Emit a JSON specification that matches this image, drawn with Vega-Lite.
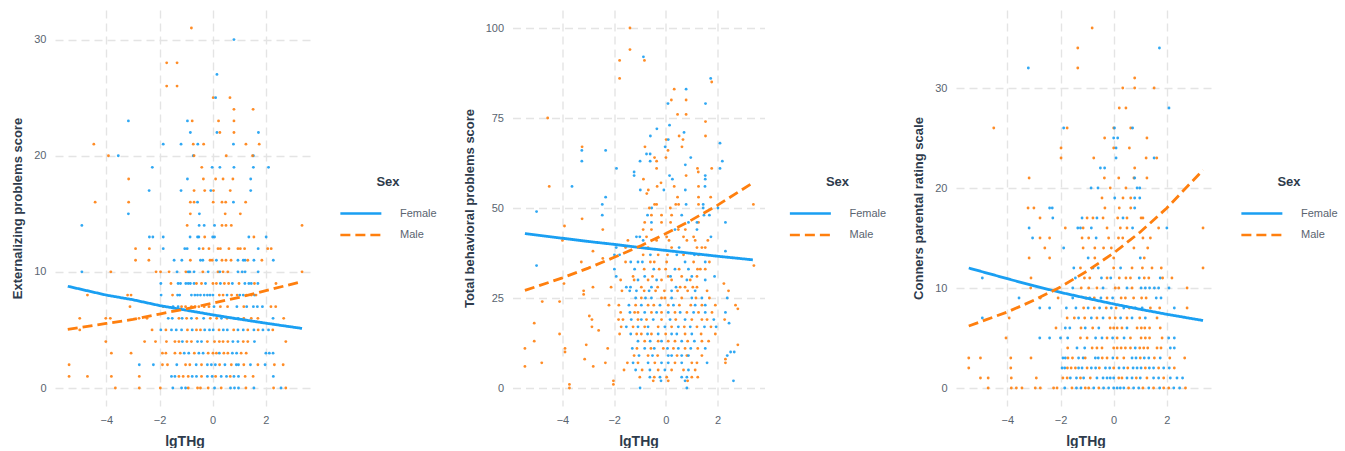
{
"$schema": "https://vega.github.io/schema/vega-lite/v6.json",
"padding": {"left": 11, "top": 10, "right": 0, "bottom": 0},
"background": "white",
"spacing": 25.5,
"config": {
  "view": {"stroke": null},
  "font": "Liberation Sans",
  "axis": {"grid": true, "gridColor": "#E4E4E4", "gridDash": [8, 5], "gridWidth": 1.4, "domain": false, "ticks": false,
    "labelFont": "Liberation Sans", "labelFontSize": 11, "labelColor": "#5A6470", "labelPadding": 9,
    "titleFont": "Liberation Sans", "titleFontSize": 13, "titleFontWeight": "bold", "titleColor": "#2E3B4C", "titlePadding": 9},
  "axisX": {"labelPadding": 8, "titlePadding": 9, "titleFontSize": 14},
  "legend": {"orient": "none", "titleFont": "Liberation Sans", "titleFontSize": 13, "titleFontWeight": "bold", "titleColor": "#2E3B4C",
    "labelFont": "Liberation Sans", "labelFontSize": 11, "labelColor": "#5A6470", "titleAnchor": "middle", "titleAlign": "center",
    "symbolType": "M-1,0H7", "symbolSize": 105, "symbolStrokeWidth": 2.6, "labelOffset": 48, "rowPadding": 9.5, "titlePadding": 18}
},
"datasets": {
"p1": [
{"x":-0.80,"y":31,"s":"M"},{"x":0.80,"y":30,"s":"F"},{"x":-1.73,"y":28,"s":"M"},{"x":-1.34,"y":28,"s":"M"},{"x":0.16,"y":27,"s":"F"},{"x":-1.73,"y":26,"s":"M"},{"x":-1.34,"y":26,"s":"M"},
{"x":0.02,"y":25,"s":"M"},{"x":0.11,"y":25,"s":"F"},{"x":0.65,"y":25,"s":"M"},{"x":0.80,"y":24,"s":"M"},{"x":1.52,"y":24,"s":"M"},
{"x":-3.17,"y":23,"s":"F"},{"x":-0.95,"y":23,"s":"F"},{"x":-0.77,"y":23,"s":"M"},{"x":0.22,"y":23,"s":"M"},{"x":0.80,"y":23,"s":"M"},
{"x":-0.84,"y":22,"s":"F"},{"x":0.16,"y":22,"s":"F"},{"x":0.27,"y":22,"s":"M"},{"x":0.80,"y":22,"s":"M"},{"x":1.72,"y":22,"s":"F"},
{"x":-4.47,"y":21,"s":"M"},{"x":-1.86,"y":21,"s":"F"},{"x":-1.19,"y":21,"s":"F"},{"x":-0.73,"y":21,"s":"M"},{"x":-0.56,"y":21,"s":"F"},{"x":-0.34,"y":21,"s":"M"},{"x":0.78,"y":21,"s":"F"},{"x":1.25,"y":21,"s":"M"},{"x":1.75,"y":21,"s":"M"},
{"x":-3.92,"y":20,"s":"M"},{"x":-3.55,"y":20,"s":"F"},{"x":-0.73,"y":20,"s":"F"},{"x":-0.70,"y":20,"s":"M"},{"x":0.51,"y":20,"s":"M"},{"x":1.53,"y":20,"s":"F"},{"x":1.50,"y":20,"s":"M"},
{"x":-2.27,"y":19,"s":"F"},{"x":-0.41,"y":19,"s":"M"},{"x":-0.02,"y":19,"s":"F"},{"x":0.27,"y":19,"s":"F"},{"x":0.80,"y":19,"s":"F"},{"x":1.53,"y":19,"s":"F"},{"x":2.10,"y":19,"s":"F"},
{"x":-3.16,"y":18,"s":"M"},{"x":-0.95,"y":18,"s":"F"},{"x":-0.35,"y":18,"s":"M"},{"x":0.11,"y":18,"s":"M"},{"x":0.39,"y":18,"s":"M"},{"x":0.76,"y":18,"s":"M"},{"x":1.43,"y":18,"s":"F"},
{"x":-2.39,"y":17,"s":"F"},{"x":-1.19,"y":17,"s":"F"},{"x":-0.70,"y":17,"s":"M"},{"x":-0.30,"y":17,"s":"M"},{"x":-0.07,"y":17,"s":"F"},{"x":0.03,"y":17,"s":"M"},{"x":0.66,"y":17,"s":"M"},{"x":1.43,"y":17,"s":"F"},
{"x":-4.42,"y":16,"s":"M"},{"x":-3.16,"y":16,"s":"M"},{"x":-0.84,"y":16,"s":"M"},{"x":-0.70,"y":16,"s":"M"},{"x":-0.57,"y":16,"s":"F"},{"x":0.02,"y":16,"s":"M"},{"x":0.35,"y":16,"s":"M"},{"x":0.49,"y":16,"s":"M"},{"x":0.78,"y":16,"s":"F"},{"x":1.24,"y":16,"s":"M"},
{"x":-3.17,"y":15,"s":"F"},{"x":-0.84,"y":15,"s":"M"},{"x":-0.50,"y":15,"s":"F"},{"x":0.47,"y":15,"s":"M"},{"x":1.04,"y":15,"s":"M"},
{"x":-4.92,"y":14,"s":"F"},{"x":-0.96,"y":14,"s":"M"},{"x":-0.51,"y":14,"s":"F"},{"x":-0.32,"y":14,"s":"F"},{"x":0.07,"y":14,"s":"F"},{"x":0.35,"y":14,"s":"M"},{"x":0.50,"y":14,"s":"M"},{"x":0.70,"y":14,"s":"M"},{"x":3.36,"y":14,"s":"M"},
{"x":-2.38,"y":13,"s":"F"},{"x":-2.25,"y":13,"s":"F"},{"x":-1.86,"y":13,"s":"F"},{"x":-0.85,"y":13,"s":"F"},{"x":-0.57,"y":13,"s":"F"},{"x":-0.52,"y":13,"s":"F"},{"x":-0.30,"y":13,"s":"M"},{"x":0.0,"y":13,"s":"F"},{"x":0.07,"y":13,"s":"F"},{"x":1.36,"y":13,"s":"F"},{"x":1.55,"y":13,"s":"M"},{"x":2.01,"y":13,"s":"F"},
{"x":-2.90,"y":12,"s":"M"},{"x":-2.38,"y":12,"s":"M"},{"x":-1.86,"y":12,"s":"F"},{"x":-1.05,"y":12,"s":"F"},{"x":-0.96,"y":12,"s":"F"},{"x":-0.51,"y":12,"s":"F"},{"x":-0.36,"y":12,"s":"M"},{"x":-0.14,"y":12,"s":"M"},{"x":0.20,"y":12,"s":"M"},{"x":0.29,"y":12,"s":"M"},{"x":0.61,"y":12,"s":"M"},{"x":0.95,"y":12,"s":"M"},{"x":1.04,"y":12,"s":"M"},{"x":1.20,"y":12,"s":"M"},{"x":1.71,"y":12,"s":"F"},{"x":2.07,"y":12,"s":"M"},{"x":2.20,"y":12,"s":"M"},
{"x":-2.90,"y":11,"s":"M"},{"x":-2.40,"y":11,"s":"M"},{"x":-1.45,"y":11,"s":"F"},{"x":-1.16,"y":11,"s":"F"},{"x":-0.84,"y":11,"s":"M"},{"x":-0.46,"y":11,"s":"F"},{"x":-0.37,"y":11,"s":"F"},{"x":-0.10,"y":11,"s":"M"},{"x":-0.02,"y":11,"s":"M"},{"x":0.14,"y":11,"s":"F"},{"x":0.35,"y":11,"s":"M"},{"x":0.50,"y":11,"s":"M"},{"x":0.69,"y":11,"s":"M"},{"x":0.95,"y":11,"s":"F"},{"x":1.15,"y":11,"s":"F"},{"x":1.22,"y":11,"s":"F"},{"x":1.32,"y":11,"s":"M"},{"x":1.55,"y":11,"s":"F"},{"x":1.85,"y":11,"s":"M"},{"x":2.28,"y":11,"s":"F"},
{"x":-4.92,"y":10,"s":"F"},{"x":-3.83,"y":10,"s":"M"},{"x":-2.13,"y":10,"s":"M"},{"x":-1.96,"y":10,"s":"M"},{"x":-1.64,"y":10,"s":"M"},{"x":-1.34,"y":10,"s":"F"},{"x":-1.01,"y":10,"s":"M"},{"x":-0.92,"y":10,"s":"F"},{"x":-0.86,"y":10,"s":"F"},{"x":-0.70,"y":10,"s":"F"},{"x":-0.37,"y":10,"s":"M"},{"x":-0.17,"y":10,"s":"F"},{"x":0.20,"y":10,"s":"M"},{"x":0.27,"y":10,"s":"F"},{"x":0.39,"y":10,"s":"M"},{"x":0.57,"y":10,"s":"M"},{"x":0.95,"y":10,"s":"F"},{"x":1.11,"y":10,"s":"F"},{"x":1.22,"y":10,"s":"F"},{"x":1.71,"y":10,"s":"F"},{"x":3.36,"y":10,"s":"M"},
{"x":-1.95,"y":9,"s":"F"},{"x":-1.57,"y":9,"s":"M"},{"x":-1.30,"y":9,"s":"F"},{"x":-1.21,"y":9,"s":"F"},{"x":-1.01,"y":9,"s":"F"},{"x":-0.92,"y":9,"s":"F"},{"x":-0.84,"y":9,"s":"F"},{"x":-0.70,"y":9,"s":"F"},{"x":-0.61,"y":9,"s":"M"},{"x":-0.42,"y":9,"s":"M"},{"x":-0.27,"y":9,"s":"F"},{"x":0.01,"y":9,"s":"M"},{"x":0.14,"y":9,"s":"M"},{"x":0.29,"y":9,"s":"F"},{"x":0.44,"y":9,"s":"M"},{"x":0.60,"y":9,"s":"M"},{"x":0.74,"y":9,"s":"F"},{"x":0.99,"y":9,"s":"M"},{"x":1.21,"y":9,"s":"F"},{"x":1.36,"y":9,"s":"F"},{"x":1.45,"y":9,"s":"F"},{"x":1.57,"y":9,"s":"M"},{"x":1.70,"y":9,"s":"F"},{"x":2.38,"y":9,"s":"M"},
{"x":-4.71,"y":8,"s":"M"},{"x":-3.20,"y":8,"s":"M"},{"x":-3.07,"y":8,"s":"M"},{"x":-1.94,"y":8,"s":"F"},{"x":-1.51,"y":8,"s":"M"},{"x":-1.32,"y":8,"s":"F"},{"x":-1.24,"y":8,"s":"F"},{"x":-0.80,"y":8,"s":"F"},{"x":-0.67,"y":8,"s":"F"},{"x":-0.57,"y":8,"s":"F"},{"x":-0.46,"y":8,"s":"F"},{"x":-0.32,"y":8,"s":"F"},{"x":-0.20,"y":8,"s":"F"},{"x":-0.10,"y":8,"s":"F"},{"x":0.01,"y":8,"s":"F"},{"x":0.25,"y":8,"s":"M"},{"x":0.39,"y":8,"s":"M"},{"x":0.54,"y":8,"s":"F"},{"x":0.71,"y":8,"s":"M"},{"x":0.92,"y":8,"s":"M"},{"x":1.02,"y":8,"s":"F"},{"x":1.15,"y":8,"s":"F"},{"x":1.27,"y":8,"s":"M"},{"x":1.45,"y":8,"s":"M"},{"x":1.57,"y":8,"s":"F"},{"x":1.63,"y":8,"s":"M"},
{"x":-3.11,"y":7,"s":"M"},{"x":-1.86,"y":7,"s":"M"},{"x":-1.49,"y":7,"s":"F"},{"x":-1.30,"y":7,"s":"F"},{"x":-1.17,"y":7,"s":"M"},{"x":-1.02,"y":7,"s":"M"},{"x":-0.80,"y":7,"s":"M"},{"x":-0.66,"y":7,"s":"M"},{"x":-0.52,"y":7,"s":"M"},{"x":-0.32,"y":7,"s":"M"},{"x":-0.14,"y":7,"s":"M"},{"x":0.05,"y":7,"s":"F"},{"x":0.29,"y":7,"s":"M"},{"x":0.56,"y":7,"s":"M"},{"x":0.91,"y":7,"s":"F"},{"x":1.17,"y":7,"s":"M"},{"x":1.28,"y":7,"s":"F"},{"x":1.53,"y":7,"s":"F"},{"x":1.68,"y":7,"s":"F"},{"x":1.87,"y":7,"s":"F"},{"x":2.19,"y":7,"s":"M"},{"x":2.37,"y":7,"s":"M"},
{"x":-5.00,"y":6,"s":"M"},{"x":-4.02,"y":6,"s":"M"},{"x":-3.85,"y":6,"s":"M"},{"x":-2.77,"y":6,"s":"M"},{"x":-2.47,"y":6,"s":"M"},{"x":-1.67,"y":6,"s":"F"},{"x":-1.52,"y":6,"s":"F"},{"x":-1.27,"y":6,"s":"M"},{"x":-1.15,"y":6,"s":"F"},{"x":-0.98,"y":6,"s":"M"},{"x":-0.80,"y":6,"s":"F"},{"x":-0.60,"y":6,"s":"M"},{"x":-0.34,"y":6,"s":"F"},{"x":-0.09,"y":6,"s":"M"},{"x":0.15,"y":6,"s":"M"},{"x":0.33,"y":6,"s":"F"},{"x":0.54,"y":6,"s":"M"},{"x":0.80,"y":6,"s":"F"},{"x":0.96,"y":6,"s":"F"},{"x":1.17,"y":6,"s":"M"},{"x":1.45,"y":6,"s":"M"},{"x":1.70,"y":6,"s":"M"},{"x":2.27,"y":6,"s":"F"},{"x":2.67,"y":6,"s":"M"},
{"x":-5.00,"y":5,"s":"M"},{"x":-2.28,"y":5,"s":"M"},{"x":-1.95,"y":5,"s":"F"},{"x":-1.76,"y":5,"s":"M"},{"x":-1.55,"y":5,"s":"F"},{"x":-1.37,"y":5,"s":"F"},{"x":-1.17,"y":5,"s":"F"},{"x":-0.95,"y":5,"s":"M"},{"x":-0.77,"y":5,"s":"F"},{"x":-0.61,"y":5,"s":"M"},{"x":-0.46,"y":5,"s":"M"},{"x":-0.30,"y":5,"s":"F"},{"x":-0.12,"y":5,"s":"F"},{"x":0.02,"y":5,"s":"F"},{"x":0.24,"y":5,"s":"M"},{"x":0.40,"y":5,"s":"F"},{"x":0.55,"y":5,"s":"F"},{"x":0.79,"y":5,"s":"M"},{"x":0.95,"y":5,"s":"F"},{"x":1.15,"y":5,"s":"F"},{"x":1.32,"y":5,"s":"M"},{"x":1.55,"y":5,"s":"F"},{"x":1.71,"y":5,"s":"M"},{"x":1.89,"y":5,"s":"F"},{"x":2.10,"y":5,"s":"F"},{"x":2.26,"y":5,"s":"M"},
{"x":-4.02,"y":4,"s":"M"},{"x":-2.56,"y":4,"s":"M"},{"x":-2.15,"y":4,"s":"M"},{"x":-1.74,"y":4,"s":"M"},{"x":-1.42,"y":4,"s":"M"},{"x":-1.27,"y":4,"s":"M"},{"x":-1.14,"y":4,"s":"F"},{"x":-0.97,"y":4,"s":"M"},{"x":-0.80,"y":4,"s":"M"},{"x":-0.57,"y":4,"s":"F"},{"x":-0.42,"y":4,"s":"F"},{"x":-0.20,"y":4,"s":"M"},{"x":0.07,"y":4,"s":"M"},{"x":0.25,"y":4,"s":"M"},{"x":0.39,"y":4,"s":"M"},{"x":0.57,"y":4,"s":"M"},{"x":0.76,"y":4,"s":"F"},{"x":0.95,"y":4,"s":"F"},{"x":1.15,"y":4,"s":"M"},{"x":1.32,"y":4,"s":"M"},{"x":1.57,"y":4,"s":"F"},{"x":2.75,"y":4,"s":"M"},
{"x":-3.81,"y":3,"s":"M"},{"x":-3.07,"y":3,"s":"M"},{"x":-1.89,"y":3,"s":"M"},{"x":-1.76,"y":3,"s":"M"},{"x":-1.42,"y":3,"s":"M"},{"x":-1.22,"y":3,"s":"M"},{"x":-1.07,"y":3,"s":"F"},{"x":-0.90,"y":3,"s":"F"},{"x":-0.69,"y":3,"s":"M"},{"x":-0.52,"y":3,"s":"F"},{"x":-0.36,"y":3,"s":"F"},{"x":-0.17,"y":3,"s":"M"},{"x":0.01,"y":3,"s":"M"},{"x":0.14,"y":3,"s":"M"},{"x":0.25,"y":3,"s":"F"},{"x":0.42,"y":3,"s":"M"},{"x":0.57,"y":3,"s":"M"},{"x":0.74,"y":3,"s":"F"},{"x":0.90,"y":3,"s":"F"},{"x":1.07,"y":3,"s":"M"},{"x":1.26,"y":3,"s":"M"},{"x":2.00,"y":3,"s":"F"},{"x":2.13,"y":3,"s":"F"},{"x":2.27,"y":3,"s":"F"},
{"x":-5.40,"y":2,"s":"M"},{"x":-2.76,"y":2,"s":"F"},{"x":-2.23,"y":2,"s":"F"},{"x":-1.89,"y":2,"s":"M"},{"x":-1.70,"y":2,"s":"M"},{"x":-1.35,"y":2,"s":"F"},{"x":-1.02,"y":2,"s":"M"},{"x":-0.86,"y":2,"s":"M"},{"x":-0.62,"y":2,"s":"F"},{"x":-0.42,"y":2,"s":"M"},{"x":-0.20,"y":2,"s":"F"},{"x":-0.05,"y":2,"s":"F"},{"x":0.10,"y":2,"s":"F"},{"x":0.26,"y":2,"s":"M"},{"x":0.46,"y":2,"s":"F"},{"x":0.70,"y":2,"s":"M"},{"x":0.89,"y":2,"s":"F"},{"x":0.97,"y":2,"s":"F"},{"x":1.17,"y":2,"s":"M"},{"x":1.42,"y":2,"s":"F"},{"x":1.70,"y":2,"s":"M"},{"x":1.97,"y":2,"s":"F"},{"x":2.32,"y":2,"s":"M"},{"x":2.65,"y":2,"s":"M"},
{"x":-5.40,"y":1,"s":"M"},{"x":-4.71,"y":1,"s":"M"},{"x":-3.81,"y":1,"s":"M"},{"x":-2.76,"y":1,"s":"M"},{"x":-1.55,"y":1,"s":"F"},{"x":-1.42,"y":1,"s":"F"},{"x":-1.27,"y":1,"s":"M"},{"x":-1.11,"y":1,"s":"M"},{"x":-0.92,"y":1,"s":"M"},{"x":-0.77,"y":1,"s":"F"},{"x":-0.61,"y":1,"s":"F"},{"x":-0.42,"y":1,"s":"M"},{"x":-0.20,"y":1,"s":"F"},{"x":-0.02,"y":1,"s":"F"},{"x":0.11,"y":1,"s":"M"},{"x":0.32,"y":1,"s":"F"},{"x":0.52,"y":1,"s":"F"},{"x":0.66,"y":1,"s":"M"},{"x":0.80,"y":1,"s":"F"},{"x":0.97,"y":1,"s":"F"},{"x":1.22,"y":1,"s":"M"},{"x":1.52,"y":1,"s":"M"},{"x":2.28,"y":1,"s":"F"},
{"x":-3.66,"y":0,"s":"M"},{"x":-2.76,"y":0,"s":"M"},{"x":-1.97,"y":0,"s":"M"},{"x":-1.50,"y":0,"s":"F"},{"x":-1.17,"y":0,"s":"F"},{"x":-1.02,"y":0,"s":"F"},{"x":-0.92,"y":0,"s":"M"},{"x":-0.57,"y":0,"s":"M"},{"x":-0.46,"y":0,"s":"M"},{"x":-0.17,"y":0,"s":"M"},{"x":0.07,"y":0,"s":"F"},{"x":0.32,"y":0,"s":"M"},{"x":0.67,"y":0,"s":"F"},{"x":0.82,"y":0,"s":"F"},{"x":0.97,"y":0,"s":"F"},{"x":1.25,"y":0,"s":"M"},{"x":1.55,"y":0,"s":"F"},{"x":2.29,"y":0,"s":"M"},{"x":2.57,"y":0,"s":"F"},{"x":2.75,"y":0,"s":"M"}
],
"l1": [
{"x":-5.45,"y":8.76,"s":"F"},{"x":-4,"y":8.0,"s":"F"},{"x":-3,"y":7.6,"s":"F"},{"x":-2,"y":7.1,"s":"F"},{"x":-1,"y":6.7,"s":"F"},{"x":0,"y":6.3,"s":"F"},{"x":1,"y":5.93,"s":"F"},{"x":2,"y":5.58,"s":"F"},{"x":3.36,"y":5.13,"s":"F"},
{"x":-5.45,"y":5.04,"s":"M"},{"x":-4,"y":5.56,"s":"M"},{"x":-3,"y":5.9,"s":"M"},{"x":-2,"y":6.37,"s":"M"},{"x":-1,"y":6.82,"s":"M"},{"x":0,"y":7.3,"s":"M"},{"x":1,"y":7.81,"s":"M"},{"x":2,"y":8.38,"s":"M"},{"x":3.36,"y":9.17,"s":"M"}
],
"p2": [
{"x":-1.39,"y":100,"s":"M"},{"x":-1.39,"y":94,"s":"M"},{"x":-0.87,"y":92,"s":"F"},{"x":-0.83,"y":91,"s":"M"},{"x":-1.79,"y":91,"s":"M"},{"x":-1.79,"y":86,"s":"M"},{"x":1.73,"y":86,"s":"F"},{"x":1.77,"y":85,"s":"M"},{"x":0.32,"y":83,"s":"M"},{"x":0.78,"y":83,"s":"F"},{"x":0.21,"y":80,"s":"M"},{"x":0.78,"y":80,"s":"M"},{"x":0.08,"y":79,"s":"F"},{"x":1.53,"y":79,"s":"F"},{"x":0.45,"y":76,"s":"M"},{"x":0.78,"y":76,"s":"M"},{"x":-4.57,"y":75,"s":"M"},{"x":1.53,"y":74,"s":"M"},{"x":0.14,"y":73,"s":"F"},{"x":-0.35,"y":72,"s":"F"},{"x":-0.60,"y":70,"s":"F"},{"x":0.51,"y":70,"s":"M"},{"x":1.53,"y":70,"s":"M"},{"x":0.70,"y":71,"s":"F"},{"x":0.01,"y":69,"s":"M"},{"x":0.09,"y":69,"s":"F"},{"x":0.66,"y":69,"s":"M"},{"x":2.09,"y":68,"s":"F"},{"x":-3.24,"y":67,"s":"M"},{"x":-0.81,"y":67,"s":"M"},{"x":-0.03,"y":67,"s":"F"},{"x":0.62,"y":67,"s":"M"},{"x":-3.25,"y":66,"s":"F"},{"x":-2.33,"y":66,"s":"F"},{"x":0.08,"y":66,"s":"M"},{"x":-0.75,"y":65,"s":"F"},{"x":-0.61,"y":65,"s":"F"},{"x":-0.44,"y":64,"s":"M"},{"x":0.0,"y":64,"s":"M"},{"x":0.96,"y":64,"s":"F"},{"x":-3.25,"y":63,"s":"F"},{"x":-1.0,"y":63,"s":"F"},{"x":-0.61,"y":63,"s":"F"},{"x":-0.36,"y":63,"s":"M"},{"x":2.18,"y":63,"s":"F"},{"x":0.75,"y":62,"s":"F"},{"x":-1.91,"y":61,"s":"F"},{"x":-0.36,"y":61,"s":"M"},{"x":1.22,"y":61,"s":"M"},{"x":1.77,"y":61,"s":"M"},{"x":2.09,"y":61,"s":"F"},{"x":-1.23,"y":60,"s":"F"},{"x":1.25,"y":60,"s":"M"},{"x":-1.23,"y":59,"s":"F"},{"x":0.14,"y":59,"s":"F"},{"x":0.78,"y":59,"s":"M"},{"x":1.52,"y":59,"s":"F"},{"x":-0.87,"y":58,"s":"M"},{"x":0.25,"y":58,"s":"F"},{"x":1.52,"y":58,"s":"F"},{"x":-0.19,"y":57,"s":"M"},{"x":-4.51,"y":56,"s":"M"},{"x":-3.63,"y":56,"s":"F"},{"x":-0.34,"y":56,"s":"M"},{"x":0.32,"y":56,"s":"M"},{"x":1.26,"y":56,"s":"M"},{"x":1.51,"y":56,"s":"F"},{"x":-0.99,"y":55,"s":"F"},{"x":-0.68,"y":55,"s":"M"},{"x":-0.74,"y":54,"s":"M"},{"x":-0.08,"y":55,"s":"F"},{"x":0.75,"y":55,"s":"F"},{"x":0.45,"y":53,"s":"M"},{"x":1.26,"y":53,"s":"M"},{"x":1.73,"y":53,"s":"M"},{"x":-2.33,"y":53,"s":"F"},{"x":-2.46,"y":51,"s":"F"},{"x":-0.44,"y":51,"s":"M"},{"x":-0.36,"y":51,"s":"M"},{"x":0.38,"y":51,"s":"M"},{"x":0.49,"y":51,"s":"M"},{"x":0.78,"y":51,"s":"F"},{"x":1.26,"y":51,"s":"M"},{"x":1.44,"y":51,"s":"F"},{"x":3.38,"y":51,"s":"M"},{"x":-0.55,"y":50,"s":"F"},{"x":-0.64,"y":50,"s":"M"},{"x":0.17,"y":50,"s":"M"},{"x":1.44,"y":50,"s":"F"},{"x":2.01,"y":50,"s":"F"},
{"x":-5.0,"y":49,"s":"F"},{"x":-2.46,"y":48,"s":"F"},{"x":-3.92,"y":45,"s":"M"},{"x":-3.24,"y":47,"s":"M"},{"x":-2.44,"y":44,"s":"M"},{"x":-4.0,"y":41,"s":"M"},{"x":-2.82,"y":38,"s":"M"},{"x":-3.27,"y":35,"s":"M"},{"x":-5.0,"y":34,"s":"F"},{"x":-2.44,"y":36,"s":"M"},{"x":-3.94,"y":29,"s":"M"},{"x":-3.18,"y":27,"s":"M"},{"x":-3.18,"y":26,"s":"M"},{"x":-2.82,"y":28,"s":"M"},{"x":-2.12,"y":28,"s":"M"},{"x":-4.78,"y":24,"s":"M"},{"x":-4.11,"y":24,"s":"M"},{"x":-2.20,"y":23,"s":"M"},{"x":-2.96,"y":20,"s":"M"},{"x":-2.86,"y":19,"s":"M"},{"x":-2.86,"y":17,"s":"M"},{"x":-2.60,"y":16,"s":"M"},{"x":-5.09,"y":18,"s":"M"},{"x":-4.11,"y":15,"s":"M"},{"x":-5.09,"y":13,"s":"M"},{"x":-5.45,"y":11,"s":"M"},{"x":-3.90,"y":11,"s":"M"},{"x":-3.90,"y":10,"s":"M"},{"x":-4.8,"y":7,"s":"M"},{"x":-5.45,"y":6,"s":"M"},{"x":-3.14,"y":8,"s":"M"},{"x":-2.81,"y":6,"s":"M"},{"x":-2.34,"y":7,"s":"M"},{"x":-3.08,"y":12,"s":"M"},{"x":-2.25,"y":11,"s":"M"},{"x":-3.73,"y":1,"s":"M"},{"x":-3.73,"y":0,"s":"M"},{"x":-2.03,"y":2,"s":"M"},{"x":-2.03,"y":1,"s":"M"},{"x":-1.0,"y":0,"s":"F"},{"x":0.81,"y":0,"s":"F"},{"x":2.3,"y":46,"s":"F"},{"x":2.3,"y":38,"s":"F"},{"x":3.4,"y":34,"s":"M"},{"x":2.24,"y":29,"s":"M"},{"x":2.42,"y":27,"s":"M"},{"x":2.37,"y":25,"s":"F"},{"x":2.69,"y":23,"s":"M"},{"x":2.78,"y":22,"s":"M"},{"x":2.30,"y":21,"s":"F"},{"x":2.27,"y":19,"s":"M"},{"x":2.44,"y":18,"s":"F"},{"x":2.78,"y":12,"s":"M"},{"x":2.50,"y":10,"s":"F"},{"x":2.64,"y":10,"s":"F"},{"x":2.30,"y":8,"s":"M"},{"x":2.3,"y":7,"s":"M"},{"x":2.37,"y":9,"s":"F"},{"x":2.61,"y":2,"s":"F"},
{"x":-0.71,"y":48,"s":"F"},{"x":-0.56,"y":48,"s":"M"},{"x":-0.17,"y":48,"s":"M"},{"x":0.22,"y":48,"s":"M"},{"x":0.61,"y":48,"s":"F"},{"x":1.47,"y":48,"s":"F"},{"x":1.68,"y":48,"s":"F"},
{"x":-0.82,"y":46,"s":"M"},{"x":-0.56,"y":46,"s":"F"},{"x":-0.17,"y":46,"s":"M"},{"x":0.18,"y":46,"s":"M"},{"x":0.87,"y":46,"s":"F"},{"x":1.26,"y":46,"s":"M"},{"x":1.20,"y":46,"s":"F"},
{"x":-0.88,"y":44,"s":"M"},{"x":-0.56,"y":44,"s":"M"},{"x":0.35,"y":44,"s":"F"},{"x":0.48,"y":44,"s":"M"},{"x":0.75,"y":44,"s":"M"},{"x":1.20,"y":44,"s":"F"},
{"x":-1.14,"y":42,"s":"F"},{"x":-1.01,"y":42,"s":"F"},{"x":-0.75,"y":42,"s":"M"},{"x":0.03,"y":42,"s":"M"},{"x":0.68,"y":42,"s":"M"},{"x":1.07,"y":42,"s":"M"},{"x":1.74,"y":42,"s":"F"},
{"x":-1.47,"y":41,"s":"M"},{"x":-0.88,"y":41,"s":"F"},{"x":-0.36,"y":41,"s":"M"},{"x":0.12,"y":41,"s":"M"},{"x":0.81,"y":41,"s":"M"},{"x":1.13,"y":41,"s":"M"},{"x":1.62,"y":41,"s":"M"},
{"x":-1.92,"y":39,"s":"F"},{"x":-1.56,"y":39,"s":"M"},{"x":-1.01,"y":39,"s":"F"},{"x":-0.69,"y":39,"s":"M"},{"x":0.22,"y":39,"s":"M"},{"x":0.51,"y":39,"s":"F"},{"x":1.20,"y":39,"s":"M"},{"x":1.39,"y":39,"s":"M"},{"x":1.52,"y":39,"s":"M"},
{"x":-1.99,"y":37,"s":"F"},{"x":-1.79,"y":37,"s":"F"},{"x":-0.88,"y":37,"s":"M"},{"x":-0.60,"y":37,"s":"F"},{"x":-0.30,"y":37,"s":"M"},{"x":0.06,"y":37,"s":"M"},{"x":0.42,"y":37,"s":"F"},{"x":0.68,"y":37,"s":"M"},{"x":1.10,"y":37,"s":"F"},{"x":1.26,"y":37,"s":"M"},
{"x":-1.56,"y":35,"s":"M"},{"x":-1.36,"y":35,"s":"F"},{"x":-1.08,"y":35,"s":"F"},{"x":-0.91,"y":35,"s":"F"},{"x":-0.60,"y":35,"s":"M"},{"x":-0.45,"y":35,"s":"M"},{"x":0.03,"y":35,"s":"M"},{"x":0.74,"y":35,"s":"F"},{"x":1.07,"y":35,"s":"M"},{"x":1.52,"y":35,"s":"F"},{"x":1.68,"y":35,"s":"M"},
{"x":-1.99,"y":33,"s":"F"},{"x":-1.21,"y":33,"s":"F"},{"x":-0.84,"y":33,"s":"M"},{"x":-0.47,"y":33,"s":"F"},{"x":-0.26,"y":33,"s":"M"},{"x":-0.01,"y":33,"s":"M"},{"x":0.35,"y":33,"s":"F"},{"x":0.51,"y":33,"s":"M"},{"x":0.87,"y":33,"s":"F"},{"x":1.22,"y":33,"s":"M"},{"x":1.33,"y":33,"s":"M"},{"x":1.52,"y":33,"s":"M"},
{"x":-1.92,"y":31,"s":"F"},{"x":-1.27,"y":31,"s":"M"},{"x":-0.82,"y":31,"s":"F"},{"x":-0.52,"y":31,"s":"M"},{"x":0.09,"y":31,"s":"M"},{"x":0.18,"y":31,"s":"F"},{"x":0.61,"y":31,"s":"M"},{"x":1.0,"y":31,"s":"F"},{"x":1.20,"y":31,"s":"M"},{"x":1.88,"y":31,"s":"F"},
{"x":-1.75,"y":30,"s":"M"},{"x":-1.23,"y":30,"s":"M"},{"x":-1.08,"y":30,"s":"F"},{"x":-0.69,"y":30,"s":"M"},{"x":-0.36,"y":30,"s":"F"},{"x":-0.17,"y":30,"s":"M"},{"x":0.22,"y":30,"s":"M"},{"x":0.81,"y":30,"s":"F"},{"x":0.94,"y":30,"s":"M"},{"x":1.52,"y":30,"s":"F"},
{"x":-1.53,"y":28,"s":"F"},{"x":-1.37,"y":28,"s":"F"},{"x":-0.95,"y":28,"s":"M"},{"x":-0.56,"y":28,"s":"F"},{"x":-0.32,"y":28,"s":"M"},{"x":0.39,"y":28,"s":"F"},{"x":0.55,"y":28,"s":"M"},{"x":0.74,"y":28,"s":"M"},{"x":1.04,"y":28,"s":"M"},{"x":1.20,"y":28,"s":"M"},
{"x":-1.70,"y":27,"s":"M"},{"x":-1.40,"y":27,"s":"F"},{"x":-1.14,"y":27,"s":"F"},{"x":-0.84,"y":27,"s":"M"},{"x":-0.65,"y":27,"s":"F"},{"x":-0.40,"y":27,"s":"M"},{"x":-0.06,"y":27,"s":"M"},{"x":0.22,"y":27,"s":"F"},{"x":0.45,"y":27,"s":"M"},{"x":0.84,"y":27,"s":"M"},{"x":1.13,"y":27,"s":"F"},{"x":1.59,"y":27,"s":"M"},
{"x":-1.17,"y":25,"s":"F"},{"x":-0.95,"y":25,"s":"M"},{"x":-0.79,"y":25,"s":"F"},{"x":-0.56,"y":25,"s":"F"},{"x":-0.17,"y":25,"s":"M"},{"x":-0.04,"y":25,"s":"M"},{"x":0.22,"y":25,"s":"F"},{"x":0.61,"y":25,"s":"M"},{"x":1.0,"y":25,"s":"F"},{"x":1.16,"y":25,"s":"M"},{"x":1.39,"y":25,"s":"F"},{"x":1.68,"y":25,"s":"M"},
{"x":-1.82,"y":23,"s":"M"},{"x":-1.43,"y":23,"s":"F"},{"x":-1.17,"y":23,"s":"M"},{"x":-0.95,"y":23,"s":"F"},{"x":-0.69,"y":23,"s":"M"},{"x":-0.47,"y":23,"s":"M"},{"x":-0.23,"y":23,"s":"F"},{"x":0.09,"y":23,"s":"M"},{"x":0.29,"y":23,"s":"F"},{"x":0.52,"y":23,"s":"M"},{"x":0.96,"y":23,"s":"M"},{"x":1.13,"y":23,"s":"F"},{"x":1.39,"y":23,"s":"M"},{"x":1.52,"y":23,"s":"F"},{"x":1.91,"y":23,"s":"M"},
{"x":-1.75,"y":21,"s":"M"},{"x":-1.39,"y":21,"s":"F"},{"x":-1.21,"y":21,"s":"M"},{"x":-1.08,"y":21,"s":"M"},{"x":-0.82,"y":21,"s":"F"},{"x":-0.56,"y":21,"s":"M"},{"x":-0.36,"y":21,"s":"F"},{"x":-0.17,"y":21,"s":"M"},{"x":0.09,"y":21,"s":"F"},{"x":0.35,"y":21,"s":"M"},{"x":0.55,"y":21,"s":"F"},{"x":0.81,"y":21,"s":"M"},{"x":1.07,"y":21,"s":"F"},{"x":1.26,"y":21,"s":"M"},{"x":1.52,"y":21,"s":"F"},{"x":1.78,"y":21,"s":"M"},
{"x":-1.83,"y":19,"s":"M"},{"x":-1.66,"y":19,"s":"M"},{"x":-1.34,"y":19,"s":"F"},{"x":-1.08,"y":19,"s":"M"},{"x":-0.95,"y":19,"s":"F"},{"x":-0.75,"y":19,"s":"M"},{"x":-0.49,"y":19,"s":"F"},{"x":-0.17,"y":19,"s":"M"},{"x":0.16,"y":19,"s":"F"},{"x":0.38,"y":19,"s":"M"},{"x":0.74,"y":19,"s":"F"},{"x":1.0,"y":19,"s":"M"},{"x":1.39,"y":19,"s":"M"},{"x":1.59,"y":19,"s":"M"},{"x":1.85,"y":19,"s":"F"},
{"x":-1.73,"y":17,"s":"M"},{"x":-1.53,"y":17,"s":"F"},{"x":-1.27,"y":17,"s":"M"},{"x":-1.08,"y":17,"s":"F"},{"x":-0.82,"y":17,"s":"M"},{"x":-0.69,"y":17,"s":"F"},{"x":-0.30,"y":17,"s":"M"},{"x":-0.04,"y":17,"s":"F"},{"x":0.22,"y":17,"s":"M"},{"x":0.48,"y":17,"s":"F"},{"x":0.71,"y":17,"s":"M"},{"x":0.94,"y":17,"s":"F"},{"x":1.20,"y":17,"s":"M"},{"x":1.49,"y":17,"s":"F"},{"x":1.74,"y":17,"s":"M"},{"x":1.94,"y":17,"s":"F"},
{"x":-1.79,"y":15,"s":"M"},{"x":-1.36,"y":15,"s":"F"},{"x":-1.13,"y":15,"s":"M"},{"x":-0.95,"y":15,"s":"M"},{"x":-0.71,"y":15,"s":"F"},{"x":-0.56,"y":15,"s":"M"},{"x":-0.30,"y":15,"s":"F"},{"x":-0.01,"y":15,"s":"M"},{"x":0.22,"y":15,"s":"F"},{"x":0.42,"y":15,"s":"F"},{"x":0.74,"y":15,"s":"M"},{"x":1.0,"y":15,"s":"F"},{"x":1.36,"y":15,"s":"M"},{"x":1.91,"y":15,"s":"M"},
{"x":-1.08,"y":13,"s":"F"},{"x":-0.82,"y":13,"s":"M"},{"x":-0.61,"y":13,"s":"F"},{"x":-0.30,"y":13,"s":"M"},{"x":-0.17,"y":13,"s":"F"},{"x":0.09,"y":13,"s":"M"},{"x":0.35,"y":13,"s":"M"},{"x":0.61,"y":13,"s":"F"},{"x":0.84,"y":13,"s":"M"},{"x":1.10,"y":13,"s":"F"},{"x":1.39,"y":13,"s":"M"},{"x":1.65,"y":13,"s":"M"},
{"x":-1.30,"y":11,"s":"F"},{"x":-1.12,"y":11,"s":"M"},{"x":-0.82,"y":11,"s":"F"},{"x":-0.58,"y":11,"s":"M"},{"x":-0.45,"y":11,"s":"F"},{"x":-0.10,"y":11,"s":"M"},{"x":0.06,"y":11,"s":"F"},{"x":0.29,"y":11,"s":"M"},{"x":0.48,"y":11,"s":"F"},{"x":0.74,"y":11,"s":"M"},{"x":0.96,"y":11,"s":"F"},{"x":1.23,"y":11,"s":"M"},{"x":1.52,"y":11,"s":"F"},
{"x":-1.23,"y":9,"s":"M"},{"x":-1.04,"y":9,"s":"F"},{"x":-0.69,"y":9,"s":"M"},{"x":-0.52,"y":9,"s":"F"},{"x":-0.32,"y":9,"s":"M"},{"x":0.09,"y":9,"s":"F"},{"x":0.22,"y":9,"s":"F"},{"x":0.43,"y":9,"s":"M"},{"x":0.61,"y":9,"s":"F"},{"x":0.81,"y":9,"s":"M"},{"x":0.87,"y":9,"s":"F"},{"x":1.39,"y":9,"s":"M"},
{"x":-1.49,"y":7,"s":"M"},{"x":-1.27,"y":7,"s":"F"},{"x":-1.08,"y":7,"s":"M"},{"x":-0.69,"y":7,"s":"F"},{"x":-0.43,"y":7,"s":"M"},{"x":-0.17,"y":7,"s":"F"},{"x":0.09,"y":7,"s":"F"},{"x":0.35,"y":7,"s":"M"},{"x":0.61,"y":7,"s":"F"},{"x":1.0,"y":7,"s":"M"},{"x":1.20,"y":7,"s":"M"},{"x":1.59,"y":7,"s":"F"},
{"x":-1.62,"y":5,"s":"M"},{"x":-1.17,"y":5,"s":"F"},{"x":-0.92,"y":5,"s":"M"},{"x":-0.62,"y":5,"s":"F"},{"x":-0.30,"y":5,"s":"M"},{"x":-0.04,"y":5,"s":"F"},{"x":0.22,"y":5,"s":"M"},{"x":0.68,"y":5,"s":"M"},{"x":0.87,"y":5,"s":"F"},{"x":1.13,"y":5,"s":"M"},
{"x":-1.01,"y":3,"s":"M"},{"x":-0.62,"y":3,"s":"F"},{"x":-0.45,"y":3,"s":"M"},{"x":-0.23,"y":3,"s":"F"},{"x":0.03,"y":3,"s":"M"},{"x":0.61,"y":3,"s":"F"},{"x":0.81,"y":3,"s":"F"},{"x":1.0,"y":3,"s":"M"},{"x":1.23,"y":3,"s":"M"},
{"x":-0.49,"y":2,"s":"M"},{"x":-0.19,"y":2,"s":"F"},{"x":0.09,"y":2,"s":"M"},{"x":0.74,"y":2,"s":"F"},{"x":0.84,"y":2,"s":"M"}
],
"l2": [
{"x":-5.45,"y":42.9,"s":"F"},{"x":-4,"y":41.6,"s":"F"},{"x":-3,"y":40.7,"s":"F"},{"x":-2,"y":39.9,"s":"F"},{"x":-1,"y":39.0,"s":"F"},{"x":0,"y":38.2,"s":"F"},{"x":1,"y":37.4,"s":"F"},{"x":2,"y":36.6,"s":"F"},{"x":3.36,"y":35.6,"s":"F"},
{"x":-5.45,"y":27.1,"s":"M"},{"x":-4,"y":30.6,"s":"M"},{"x":-3,"y":33.3,"s":"M"},{"x":-2,"y":36.3,"s":"M"},{"x":-1,"y":39.4,"s":"M"},{"x":0,"y":42.9,"s":"M"},{"x":1,"y":46.7,"s":"M"},{"x":2,"y":50.8,"s":"M"},{"x":3.36,"y":57.0,"s":"M"}
],
"p3": [
{"x":-0.81,"y":36,"s":"M"},{"x":-1.35,"y":34,"s":"M"},{"x":1.72,"y":34,"s":"F"},{"x":-3.21,"y":32,"s":"F"},{"x":-1.35,"y":32,"s":"M"},{"x":0.79,"y":31,"s":"M"},{"x":0.34,"y":30,"s":"M"},{"x":0.79,"y":30,"s":"M"},{"x":1.52,"y":30,"s":"M"},{"x":0.21,"y":28,"s":"M"},{"x":0.46,"y":28,"s":"M"},{"x":2.08,"y":28,"s":"F"},
{"x":-4.51,"y":26,"s":"M"},{"x":-1.88,"y":26,"s":"F"},{"x":-1.75,"y":26,"s":"M"},{"x":0.0,"y":26,"s":"M"},{"x":0.03,"y":26,"s":"F"},{"x":0.64,"y":26,"s":"M"},{"x":0.71,"y":26,"s":"F"},
{"x":-0.34,"y":25,"s":"M"},{"x":0.0,"y":25,"s":"F"},{"x":0.15,"y":25,"s":"F"},{"x":1.25,"y":25,"s":"M"},{"x":-1.98,"y":24,"s":"M"},{"x":0.0,"y":24,"s":"M"},{"x":0.09,"y":24,"s":"F"},{"x":0.59,"y":24,"s":"M"},
{"x":-1.98,"y":23,"s":"M"},{"x":-0.75,"y":23,"s":"M"},{"x":0.09,"y":23,"s":"F"},{"x":1.22,"y":23,"s":"M"},{"x":1.52,"y":23,"s":"F"},{"x":1.62,"y":23,"s":"M"},{"x":-0.50,"y":22,"s":"F"},{"x":-0.34,"y":22,"s":"F"},{"x":0.79,"y":22,"s":"M"},
{"x":-3.18,"y":21,"s":"M"},{"x":-0.35,"y":21,"s":"M"},{"x":0.19,"y":21,"s":"M"},{"x":0.76,"y":21,"s":"M"},{"x":0.79,"y":21,"s":"F"},{"x":1.25,"y":21,"s":"M"},
{"x":-0.85,"y":20,"s":"F"},{"x":-0.59,"y":20,"s":"F"},{"x":-0.13,"y":20,"s":"M"},{"x":0.46,"y":20,"s":"M"},{"x":0.88,"y":20,"s":"F"},{"x":0.98,"y":20,"s":"F"},
{"x":-0.44,"y":19,"s":"M"},{"x":0.04,"y":19,"s":"F"},{"x":0.35,"y":19,"s":"M"},{"x":0.64,"y":19,"s":"M"},{"x":0.79,"y":19,"s":"F"},{"x":0.98,"y":19,"s":"F"},
{"x":-3.22,"y":18,"s":"M"},{"x":-3.0,"y":18,"s":"M"},{"x":-2.41,"y":18,"s":"F"},{"x":-2.31,"y":18,"s":"F"},{"x":-0.33,"y":18,"s":"M"},{"x":0.21,"y":18,"s":"M"},{"x":0.64,"y":18,"s":"M"},{"x":0.79,"y":18,"s":"F"},
{"x":-2.77,"y":17,"s":"M"},{"x":-2.29,"y":17,"s":"F"},{"x":-1.19,"y":17,"s":"F"},{"x":-1.0,"y":17,"s":"M"},{"x":-0.78,"y":17,"s":"M"},{"x":-0.63,"y":17,"s":"F"},{"x":-0.40,"y":17,"s":"M"},{"x":0.15,"y":17,"s":"M"},{"x":0.35,"y":17,"s":"F"},{"x":0.50,"y":17,"s":"M"},{"x":1.03,"y":17,"s":"M"},{"x":1.10,"y":17,"s":"M"},
{"x":-3.18,"y":16,"s":"F"},{"x":-1.82,"y":16,"s":"M"},{"x":-1.35,"y":16,"s":"F"},{"x":-1.25,"y":16,"s":"F"},{"x":-1.15,"y":16,"s":"M"},{"x":-0.84,"y":16,"s":"F"},{"x":-0.25,"y":16,"s":"M"},{"x":0.25,"y":16,"s":"M"},{"x":0.50,"y":16,"s":"M"},{"x":0.71,"y":16,"s":"F"},{"x":1.69,"y":16,"s":"M"},{"x":2.0,"y":16,"s":"F"},{"x":3.36,"y":16,"s":"M"},
{"x":-3.05,"y":15,"s":"F"},{"x":-2.77,"y":15,"s":"M"},{"x":-2.41,"y":15,"s":"M"},{"x":-1.19,"y":15,"s":"M"},{"x":-0.94,"y":15,"s":"M"},{"x":-0.66,"y":15,"s":"F"},{"x":-0.19,"y":15,"s":"M"},{"x":0.18,"y":15,"s":"M"},{"x":0.34,"y":15,"s":"M"},{"x":1.10,"y":15,"s":"M"},{"x":1.38,"y":15,"s":"M"},
{"x":-2.59,"y":14,"s":"M"},{"x":-1.88,"y":14,"s":"F"},{"x":-1.15,"y":14,"s":"M"},{"x":-0.71,"y":14,"s":"M"},{"x":-0.38,"y":14,"s":"M"},{"x":-0.09,"y":14,"s":"M"},{"x":0.76,"y":14,"s":"M"},{"x":1.28,"y":14,"s":"M"},
{"x":-3.18,"y":13,"s":"M"},{"x":-2.41,"y":13,"s":"M"},{"x":-0.96,"y":13,"s":"F"},{"x":-0.71,"y":13,"s":"M"},{"x":0.0,"y":13,"s":"M"},{"x":1.15,"y":13,"s":"M"},{"x":1.0,"y":13,"s":"F"},
{"x":-1.50,"y":12,"s":"F"},{"x":-1.25,"y":12,"s":"M"},{"x":-0.78,"y":12,"s":"F"},{"x":-0.58,"y":12,"s":"F"},{"x":0.0,"y":12,"s":"M"},{"x":0.26,"y":12,"s":"F"},{"x":0.69,"y":12,"s":"M"},{"x":1.08,"y":12,"s":"M"},{"x":1.44,"y":12,"s":"M"},{"x":1.79,"y":12,"s":"M"},{"x":3.36,"y":12,"s":"M"},
{"x":-4.94,"y":11,"s":"F"},{"x":-3.11,"y":11,"s":"M"},{"x":-1.44,"y":11,"s":"F"},{"x":-1.10,"y":11,"s":"M"},{"x":-0.90,"y":11,"s":"M"},{"x":-0.46,"y":11,"s":"F"},{"x":-0.25,"y":11,"s":"M"},{"x":-0.11,"y":11,"s":"F"},{"x":0.21,"y":11,"s":"M"},{"x":0.46,"y":11,"s":"M"},{"x":0.63,"y":11,"s":"M"},{"x":0.96,"y":11,"s":"F"},{"x":1.15,"y":11,"s":"M"},{"x":1.32,"y":11,"s":"M"},{"x":1.75,"y":11,"s":"F"},{"x":1.84,"y":11,"s":"M"},{"x":2.19,"y":11,"s":"M"},
{"x":-3.12,"y":10,"s":"M"},{"x":-1.54,"y":10,"s":"F"},{"x":-1.22,"y":10,"s":"M"},{"x":-0.94,"y":10,"s":"M"},{"x":-0.63,"y":10,"s":"M"},{"x":-0.40,"y":10,"s":"F"},{"x":0.06,"y":10,"s":"M"},{"x":0.19,"y":10,"s":"M"},{"x":0.50,"y":10,"s":"F"},{"x":0.69,"y":10,"s":"M"},{"x":1.03,"y":10,"s":"F"},{"x":1.19,"y":10,"s":"F"},{"x":1.35,"y":10,"s":"F"},{"x":1.53,"y":10,"s":"F"},{"x":1.69,"y":10,"s":"F"},{"x":2.08,"y":10,"s":"F"},{"x":2.76,"y":10,"s":"M"},
{"x":-3.56,"y":9,"s":"F"},{"x":-2.76,"y":9,"s":"M"},{"x":-2.09,"y":9,"s":"M"},{"x":-1.54,"y":9,"s":"F"},{"x":-1.04,"y":9,"s":"M"},{"x":-0.90,"y":9,"s":"F"},{"x":-0.73,"y":9,"s":"M"},{"x":-0.48,"y":9,"s":"F"},{"x":-0.25,"y":9,"s":"M"},{"x":-0.04,"y":9,"s":"F"},{"x":0.28,"y":9,"s":"M"},{"x":0.44,"y":9,"s":"M"},{"x":0.75,"y":9,"s":"M"},{"x":1.05,"y":9,"s":"M"},{"x":1.22,"y":9,"s":"M"},{"x":1.60,"y":9,"s":"F"},{"x":1.78,"y":9,"s":"F"},
{"x":-2.78,"y":8,"s":"F"},{"x":-2.41,"y":8,"s":"F"},{"x":-1.78,"y":8,"s":"F"},{"x":-1.42,"y":8,"s":"F"},{"x":-1.13,"y":8,"s":"M"},{"x":-0.96,"y":8,"s":"F"},{"x":-0.73,"y":8,"s":"M"},{"x":-0.53,"y":8,"s":"F"},{"x":-0.28,"y":8,"s":"M"},{"x":-0.09,"y":8,"s":"F"},{"x":0.09,"y":8,"s":"M"},{"x":0.38,"y":8,"s":"F"},{"x":0.59,"y":8,"s":"M"},{"x":0.81,"y":8,"s":"F"},{"x":1.07,"y":8,"s":"F"},{"x":1.38,"y":8,"s":"M"},{"x":1.73,"y":8,"s":"M"},{"x":2.28,"y":8,"s":"F"},{"x":2.76,"y":8,"s":"M"},
{"x":-4.94,"y":7,"s":"F"},{"x":-3.93,"y":7,"s":"M"},{"x":-1.75,"y":7,"s":"M"},{"x":-1.48,"y":7,"s":"M"},{"x":-1.32,"y":7,"s":"F"},{"x":-1.09,"y":7,"s":"M"},{"x":-0.84,"y":7,"s":"F"},{"x":-0.63,"y":7,"s":"M"},{"x":-0.40,"y":7,"s":"F"},{"x":-0.15,"y":7,"s":"M"},{"x":0.06,"y":7,"s":"M"},{"x":0.26,"y":7,"s":"F"},{"x":0.50,"y":7,"s":"M"},{"x":0.69,"y":7,"s":"F"},{"x":0.98,"y":7,"s":"M"},{"x":1.19,"y":7,"s":"F"},{"x":1.63,"y":7,"s":"M"},
{"x":-2.17,"y":6,"s":"M"},{"x":-1.82,"y":6,"s":"F"},{"x":-1.65,"y":6,"s":"F"},{"x":-1.23,"y":6,"s":"M"},{"x":-1.07,"y":6,"s":"F"},{"x":-0.79,"y":6,"s":"M"},{"x":-0.56,"y":6,"s":"F"},{"x":-0.13,"y":6,"s":"M"},{"x":0.0,"y":6,"s":"M"},{"x":0.13,"y":6,"s":"M"},{"x":0.31,"y":6,"s":"M"},{"x":0.50,"y":6,"s":"F"},{"x":0.88,"y":6,"s":"M"},{"x":1.04,"y":6,"s":"M"},{"x":1.17,"y":6,"s":"M"},{"x":1.35,"y":6,"s":"M"},{"x":1.75,"y":6,"s":"M"},
{"x":-4.05,"y":5,"s":"M"},{"x":-2.78,"y":5,"s":"F"},{"x":-2.41,"y":5,"s":"F"},{"x":-2.0,"y":5,"s":"F"},{"x":-1.73,"y":5,"s":"F"},{"x":-1.25,"y":5,"s":"M"},{"x":-1.0,"y":5,"s":"M"},{"x":-0.68,"y":5,"s":"F"},{"x":-0.44,"y":5,"s":"F"},{"x":-0.25,"y":5,"s":"M"},{"x":-0.04,"y":5,"s":"F"},{"x":0.13,"y":5,"s":"M"},{"x":0.39,"y":5,"s":"F"},{"x":0.63,"y":5,"s":"M"},{"x":1.03,"y":5,"s":"M"},{"x":1.19,"y":5,"s":"M"},{"x":1.35,"y":5,"s":"M"},{"x":1.82,"y":5,"s":"M"},{"x":2.07,"y":5,"s":"F"},{"x":2.28,"y":5,"s":"F"},
{"x":-1.73,"y":4,"s":"M"},{"x":-1.38,"y":4,"s":"F"},{"x":-1.09,"y":4,"s":"F"},{"x":-0.81,"y":4,"s":"M"},{"x":-0.63,"y":4,"s":"M"},{"x":-0.44,"y":4,"s":"M"},{"x":0.0,"y":4,"s":"M"},{"x":0.13,"y":4,"s":"M"},{"x":0.28,"y":4,"s":"M"},{"x":0.44,"y":4,"s":"M"},{"x":0.63,"y":4,"s":"M"},{"x":0.81,"y":4,"s":"F"},{"x":0.98,"y":4,"s":"M"},{"x":1.13,"y":4,"s":"M"},{"x":1.28,"y":4,"s":"M"},{"x":1.63,"y":4,"s":"M"},{"x":1.78,"y":4,"s":"M"},{"x":2.13,"y":4,"s":"F"},{"x":2.28,"y":4,"s":"F"},
{"x":-5.45,"y":3,"s":"M"},{"x":-5.01,"y":3,"s":"M"},{"x":-3.87,"y":3,"s":"M"},{"x":-3.11,"y":3,"s":"M"},{"x":-1.91,"y":3,"s":"F"},{"x":-1.82,"y":3,"s":"F"},{"x":-1.72,"y":3,"s":"M"},{"x":-1.55,"y":3,"s":"M"},{"x":-1.32,"y":3,"s":"F"},{"x":-1.15,"y":3,"s":"F"},{"x":-1.07,"y":3,"s":"M"},{"x":-0.69,"y":3,"s":"F"},{"x":-0.58,"y":3,"s":"F"},{"x":-0.43,"y":3,"s":"M"},{"x":-0.25,"y":3,"s":"M"},{"x":-0.03,"y":3,"s":"F"},{"x":0.13,"y":3,"s":"M"},{"x":0.38,"y":3,"s":"M"},{"x":0.69,"y":3,"s":"F"},{"x":0.84,"y":3,"s":"F"},{"x":1.0,"y":3,"s":"M"},{"x":1.15,"y":3,"s":"F"},{"x":1.32,"y":3,"s":"F"},{"x":1.53,"y":3,"s":"M"},{"x":1.75,"y":3,"s":"F"},{"x":2.11,"y":3,"s":"M"},{"x":2.67,"y":3,"s":"M"},
{"x":-5.45,"y":2,"s":"M"},{"x":-3.87,"y":2,"s":"M"},{"x":-1.94,"y":2,"s":"F"},{"x":-1.84,"y":2,"s":"F"},{"x":-1.74,"y":2,"s":"M"},{"x":-1.60,"y":2,"s":"M"},{"x":-1.44,"y":2,"s":"M"},{"x":-1.32,"y":2,"s":"F"},{"x":-1.19,"y":2,"s":"F"},{"x":-1.0,"y":2,"s":"M"},{"x":-0.84,"y":2,"s":"F"},{"x":-0.68,"y":2,"s":"F"},{"x":-0.54,"y":2,"s":"M"},{"x":-0.31,"y":2,"s":"F"},{"x":-0.15,"y":2,"s":"F"},{"x":0.0,"y":2,"s":"M"},{"x":0.20,"y":2,"s":"F"},{"x":0.38,"y":2,"s":"F"},{"x":0.53,"y":2,"s":"M"},{"x":0.73,"y":2,"s":"F"},{"x":0.88,"y":2,"s":"F"},{"x":1.03,"y":2,"s":"F"},{"x":1.19,"y":2,"s":"M"},{"x":1.34,"y":2,"s":"F"},{"x":1.50,"y":2,"s":"F"},{"x":1.69,"y":2,"s":"M"},{"x":1.88,"y":2,"s":"F"},{"x":2.09,"y":2,"s":"F"},{"x":2.28,"y":2,"s":"M"},
{"x":-5.01,"y":1,"s":"M"},{"x":-4.72,"y":1,"s":"M"},{"x":-3.85,"y":1,"s":"M"},{"x":-2.91,"y":1,"s":"M"},{"x":-1.91,"y":1,"s":"M"},{"x":-1.75,"y":1,"s":"M"},{"x":-1.63,"y":1,"s":"F"},{"x":-1.40,"y":1,"s":"F"},{"x":-1.25,"y":1,"s":"M"},{"x":-1.13,"y":1,"s":"F"},{"x":-0.88,"y":1,"s":"M"},{"x":-0.63,"y":1,"s":"F"},{"x":-0.40,"y":1,"s":"F"},{"x":-0.25,"y":1,"s":"F"},{"x":-0.13,"y":1,"s":"F"},{"x":0.0,"y":1,"s":"F"},{"x":0.19,"y":1,"s":"M"},{"x":0.31,"y":1,"s":"M"},{"x":0.50,"y":1,"s":"F"},{"x":0.69,"y":1,"s":"F"},{"x":0.85,"y":1,"s":"M"},{"x":1.0,"y":1,"s":"F"},{"x":1.25,"y":1,"s":"M"},{"x":1.50,"y":1,"s":"F"},{"x":1.69,"y":1,"s":"F"},{"x":1.88,"y":1,"s":"M"},{"x":2.13,"y":1,"s":"F"},{"x":2.38,"y":1,"s":"F"},{"x":2.59,"y":1,"s":"F"},
{"x":-4.72,"y":0,"s":"M"},{"x":-3.85,"y":0,"s":"M"},{"x":-3.66,"y":0,"s":"M"},{"x":-3.45,"y":0,"s":"M"},{"x":-2.95,"y":0,"s":"M"},{"x":-2.76,"y":0,"s":"M"},{"x":-2.26,"y":0,"s":"M"},{"x":-2.13,"y":0,"s":"M"},{"x":-1.84,"y":0,"s":"F"},{"x":-1.57,"y":0,"s":"M"},{"x":-1.40,"y":0,"s":"F"},{"x":-1.23,"y":0,"s":"F"},{"x":-1.07,"y":0,"s":"M"},{"x":-0.94,"y":0,"s":"M"},{"x":-0.75,"y":0,"s":"F"},{"x":-0.56,"y":0,"s":"M"},{"x":-0.38,"y":0,"s":"F"},{"x":-0.19,"y":0,"s":"F"},{"x":0.0,"y":0,"s":"F"},{"x":0.13,"y":0,"s":"F"},{"x":0.25,"y":0,"s":"F"},{"x":0.38,"y":0,"s":"F"},{"x":0.56,"y":0,"s":"M"},{"x":0.75,"y":0,"s":"F"},{"x":0.94,"y":0,"s":"F"},{"x":1.10,"y":0,"s":"M"},{"x":1.32,"y":0,"s":"F"},{"x":1.50,"y":0,"s":"M"},{"x":1.73,"y":0,"s":"F"},{"x":1.88,"y":0,"s":"M"},{"x":2.07,"y":0,"s":"M"},{"x":2.26,"y":0,"s":"F"},{"x":2.48,"y":0,"s":"F"},{"x":2.70,"y":0,"s":"M"}
],
"l3": [
{"x":-5.45,"y":12.0,"s":"F"},{"x":-4,"y":10.93,"s":"F"},{"x":-3,"y":10.22,"s":"F"},{"x":-2,"y":9.56,"s":"F"},{"x":-1,"y":8.97,"s":"F"},{"x":0,"y":8.4,"s":"F"},{"x":1,"y":7.87,"s":"F"},{"x":2,"y":7.37,"s":"F"},{"x":3.36,"y":6.75,"s":"F"},
{"x":-5.45,"y":6.2,"s":"M"},{"x":-4,"y":7.6,"s":"M"},{"x":-3,"y":8.77,"s":"M"},{"x":-2,"y":10.1,"s":"M"},{"x":-1,"y":11.7,"s":"M"},{"x":0,"y":13.5,"s":"M"},{"x":1,"y":15.6,"s":"M"},{"x":2,"y":18.0,"s":"M"},{"x":3.36,"y":21.8,"s":"M"}
]
},
"hconcat": [
{
 "width": 259, "height": 396,
 "layer": [
  {"data": {"name": "p1"}, "mark": {"type": "circle", "size": 8, "opacity": 0.9},
   "encoding": {
    "x": {"field": "x", "type": "quantitative", "scale": {"domain": [-5.93, 3.81], "nice": false, "zero": false}, "axis": {"title": "lgTHg", "values": [-4, -2, 0, 2]}},
    "y": {"field": "y", "type": "quantitative", "scale": {"domain": [-1.55, 32.55], "nice": false, "zero": false}, "axis": {"title": "Externalizing problems score", "values": [0, 10, 20, 30]}},
    "fill": {"field": "s", "type": "nominal", "scale": {"domain": ["M", "F"], "range": ["#FF7F0E", "#1A9FF2"]}, "legend": null}}},
  {"data": {"name": "l1"}, "mark": {"type": "line", "strokeWidth": 2.8},
   "encoding": {
    "x": {"field": "x", "type": "quantitative"},
    "y": {"field": "y", "type": "quantitative"},
    "color": {"field": "s", "type": "nominal", "scale": {"domain": ["F", "M"], "range": ["#1A9FF2", "#FF7F0E"]}, "legend": {"title": "Sex", "legendX": 284, "legendY": 166, "labelExpr": "datum.label == 'F' ? 'Female' : 'Male'"}},
    "strokeDash": {"field": "s", "type": "nominal", "scale": {"domain": ["F", "M"], "range": [[1, 0], [10, 5]]}, "legend": {"title": "Sex", "legendX": 284, "legendY": 166, "labelExpr": "datum.label == 'F' ? 'Female' : 'Male'"}}}}
 ]
},
{
 "width": 252, "height": 396,
 "layer": [
  {"data": {"name": "p2"}, "mark": {"type": "circle", "size": 8, "opacity": 0.9},
   "encoding": {
    "x": {"field": "x", "type": "quantitative", "scale": {"domain": [-5.93, 3.81], "nice": false, "zero": false}, "axis": {"title": "lgTHg", "values": [-4, -2, 0, 2]}},
    "y": {"field": "y", "type": "quantitative", "scale": {"domain": [-5, 105], "nice": false, "zero": false}, "axis": {"title": "Total behavioral problems score", "values": [0, 25, 50, 75, 100]}},
    "fill": {"field": "s", "type": "nominal", "scale": {"domain": ["M", "F"], "range": ["#FF7F0E", "#1A9FF2"]}, "legend": null}}},
  {"data": {"name": "l2"}, "mark": {"type": "line", "strokeWidth": 2.8},
   "encoding": {
    "x": {"field": "x", "type": "quantitative"},
    "y": {"field": "y", "type": "quantitative"},
    "color": {"field": "s", "type": "nominal", "scale": {"domain": ["F", "M"], "range": ["#1A9FF2", "#FF7F0E"]}, "legend": {"title": "Sex", "legendX": 276, "legendY": 166, "labelExpr": "datum.label == 'F' ? 'Female' : 'Male'"}},
    "strokeDash": {"field": "s", "type": "nominal", "scale": {"domain": ["F", "M"], "range": [[1, 0], [10, 5]]}, "legend": {"title": "Sex", "legendX": 276, "legendY": 166, "labelExpr": "datum.label == 'F' ? 'Female' : 'Male'"}}}}
 ]
},
{
 "width": 259, "height": 396,
 "layer": [
  {"data": {"name": "p3"}, "mark": {"type": "circle", "size": 8, "opacity": 0.9},
   "encoding": {
    "x": {"field": "x", "type": "quantitative", "scale": {"domain": [-5.93, 3.81], "nice": false, "zero": false}, "axis": {"title": "lgTHg", "values": [-4, -2, 0, 2]}},
    "y": {"field": "y", "type": "quantitative", "scale": {"domain": [-1.8, 37.8], "nice": false, "zero": false}, "axis": {"title": "Conners parental rating scale", "values": [0, 10, 20, 30]}},
    "fill": {"field": "s", "type": "nominal", "scale": {"domain": ["M", "F"], "range": ["#FF7F0E", "#1A9FF2"]}, "legend": null}}},
  {"data": {"name": "l3"}, "mark": {"type": "line", "strokeWidth": 2.8},
   "encoding": {
    "x": {"field": "x", "type": "quantitative"},
    "y": {"field": "y", "type": "quantitative"},
    "color": {"field": "s", "type": "nominal", "scale": {"domain": ["F", "M"], "range": ["#1A9FF2", "#FF7F0E"]}, "legend": {"title": "Sex", "legendX": 284, "legendY": 166, "labelExpr": "datum.label == 'F' ? 'Female' : 'Male'"}},
    "strokeDash": {"field": "s", "type": "nominal", "scale": {"domain": ["F", "M"], "range": [[1, 0], [10, 5]]}, "legend": {"title": "Sex", "legendX": 284, "legendY": 166, "labelExpr": "datum.label == 'F' ? 'Female' : 'Male'"}}}}
 ]
}
],
"resolve": {"scale": {"color": "independent", "strokeDash": "independent", "fill": "independent", "x": "independent", "y": "independent"}, "legend": {"color": "independent", "strokeDash": "independent"}, "axis": {"x": "independent", "y": "independent"}}
}
